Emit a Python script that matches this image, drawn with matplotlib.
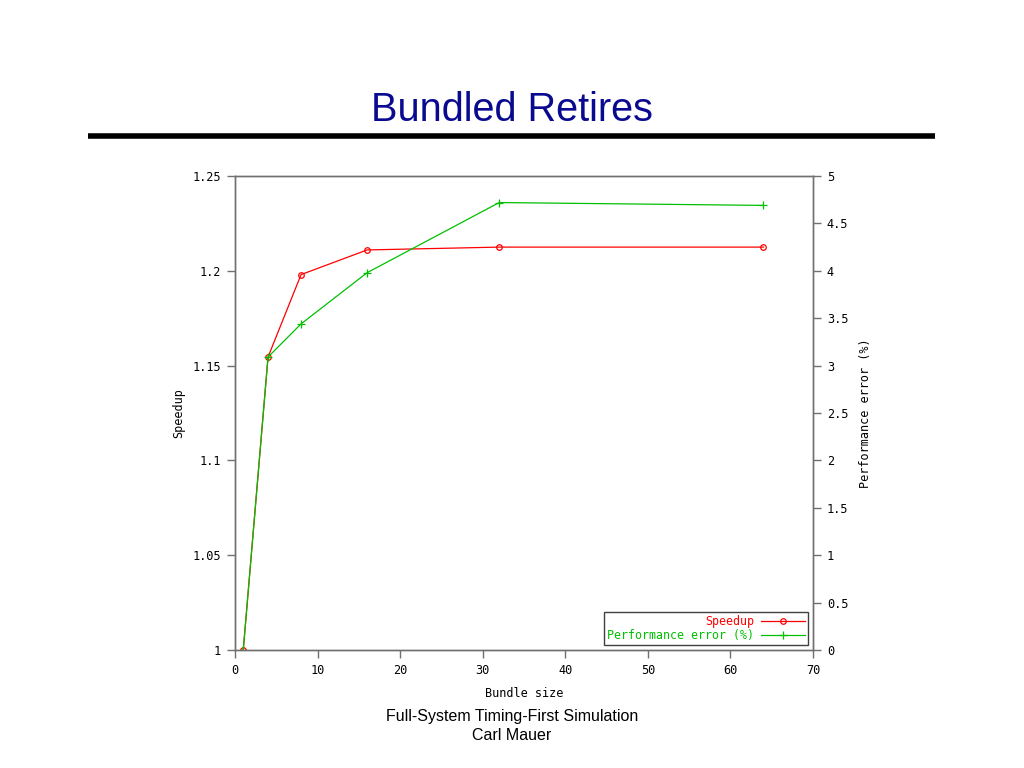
import matplotlib
matplotlib.use('Agg')
import matplotlib.pyplot as plt

# data
bundle = [1, 4, 8, 16, 32, 64]
speedup = [1.0, 1.1545, 1.198, 1.211, 1.2125, 1.2125]
perf_err = [0.0, 3.09, 3.44, 3.98, 4.72, 4.69]

left_ticks = [1, 1.05, 1.1, 1.15, 1.2, 1.25]
left_labels = ['1', '1.05', '1.1', '1.15', '1.2', '1.25']
right_ticks = [0, 0.5, 1, 1.5, 2, 2.5, 3, 3.5, 4, 4.5, 5]
right_labels = ['0', '0.5', '1', '1.5', '2', '2.5', '3', '3.5', '4', '4.5', '5']
x_ticks = [0, 10, 20, 30, 40, 50, 60, 70]

mono = 'DejaVu Sans Mono'
axcol = '#707070'

fig = plt.figure(figsize=(10.24, 7.68), dpi=100)
fig.patch.set_facecolor('white')

# slide title + rule
fig.text(0.5, 1 - 110 / 768, 'Bundled Retires', ha='center', va='center',
         fontsize=28.5, color='#0a0a90', family='Liberation Sans')
fig.add_artist(plt.Line2D([88 / 1024, 935 / 1024], [1 - 136 / 768] * 2,
                          color='black', lw=4, solid_capstyle='butt',
                          transform=fig.transFigure))
fig.text(0.5, 1 - 716 / 768, 'Full-System Timing-First Simulation', ha='center',
         va='center', fontsize=11.5, family='Liberation Sans')
fig.text(0.5, 1 - 736 / 768, 'Carl Mauer', ha='center', va='center',
         fontsize=11.5, family='Liberation Sans')

ax = fig.add_axes([235 / 1024, 1 - 650 / 768, 578 / 1024, 474 / 768])
ax2 = ax.twinx()

l1, = ax.plot(bundle, speedup, color='#ff0000', lw=0.9, marker='o', ms=4,
              mfc='none', mew=0.9, label='Speedup', zorder=3)
l2, = ax2.plot(bundle, perf_err, color='#00c000', lw=0.9, marker='+', ms=6,
               mew=0.9, label='Performance error (%)')

ax.set_xlim(0, 70)
ax.set_ylim(1, 1.25)
ax2.set_ylim(0, 5)
ax.set_xticks(x_ticks)
ax.set_xticklabels([str(t) for t in x_ticks], family=mono, fontsize=8.6)
ax.set_yticks(left_ticks)
ax.set_yticklabels(left_labels, family=mono, fontsize=8.6)
ax2.set_yticks(right_ticks)
ax2.set_yticklabels(right_labels, family=mono, fontsize=8.6)

for a in (ax, ax2):
    for s in a.spines.values():
        s.set_color(axcol)
        s.set_linewidth(1)
    a.tick_params(colors=axcol, labelcolor='black', length=6, width=1, pad=4)

ax.set_xlabel('Bundle size', family=mono, fontsize=8.5, labelpad=7)
ax.set_ylabel('Speedup', family=mono, fontsize=8.5, labelpad=5)
ax2.set_ylabel('Performance error (%)', family=mono, fontsize=8.5, labelpad=8)

leg = ax2.legend([l1, l2], ['Speedup', 'Performance error (%)'],
                 loc='lower right', markerfirst=False, fancybox=False,
                 prop={'family': mono, 'size': 8.4}, borderaxespad=0.4,
                 handlelength=3.8, borderpad=0.25, labelspacing=0.15,
                 handletextpad=0.6, framealpha=1)
leg.get_frame().set_edgecolor('#404040')
leg.get_frame().set_linewidth(1)
for t, c in zip(leg.get_texts(), ['#ff0000', '#00c000']):
    t.set_color(c)
for t in leg.get_texts():
    t.set_ha('right')
leg._legend_box.align = 'right'

fig.savefig('out.png', dpi=100)
